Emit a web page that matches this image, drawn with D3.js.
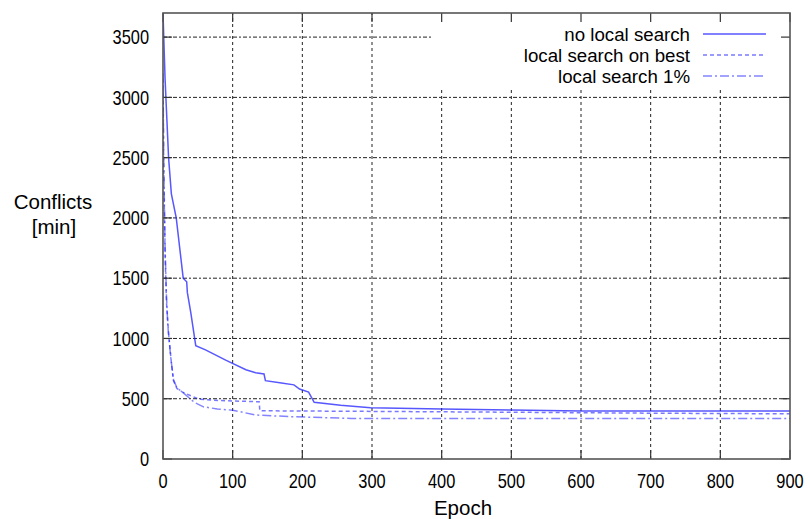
<!DOCTYPE html>
<html>
<head>
<meta charset="utf-8">
<script src="https://cdn.jsdelivr.net/npm/d3@7"></script>
<style>
  body { margin: 0; background: #fff; }
  svg { font-family: "Liberation Sans", Arial, sans-serif; }
</style>
</head>
<body>
<div id="chart"></div>
<script>
// values (epoch, conflicts)
const noLocalEpoch = [0, 3, 8, 12, 19, 29, 34, 35, 40, 47, 61, 90, 119, 133, 145, 147, 170, 188, 196, 209, 217, 255, 298, 400, 500, 600, 900];
const noLocalValue = [3700, 3150, 2500, 2200, 2000, 1500, 1470, 1380, 1210, 940, 905, 820, 740, 715, 705, 650, 630, 615, 580, 555, 470, 445, 425, 415, 406, 398, 398];

const onBestEpoch = [0, 1, 3, 5, 8, 12, 15, 20, 28, 51, 80, 138, 139, 300, 500, 700, 900];
const onBestValue = [3150, 2400, 1700, 1300, 1040, 800, 650, 585, 555, 497, 485, 475, 400, 395, 388, 380, 375];

const onePctEpoch = [0, 1, 3, 5, 7, 11, 15, 20, 28, 45, 58, 78, 100, 133, 188, 270, 500, 900];
const onePctValue = [3200, 2500, 1750, 1350, 1100, 850, 660, 590, 555, 470, 433, 415, 405, 365, 350, 337, 335, 335];

const seriesNames = ["no local search", "local search on best", "local search 1%"];
const xTicks = [0, 100, 200, 300, 400, 500, 600, 700, 800, 900];
const yTicks = [0, 500, 1000, 1500, 2000, 2500, 3000, 3500];

const width = 810, height = 519;
const margin = { left: 163, top: 13, right: 20, bottom: 60 };
const plotW = width - margin.left - margin.right;
const plotH = height - margin.top - margin.bottom;

const svg = d3.select("#chart").append("svg")
    .attr("width", width)
    .attr("height", height);

const x = d3.scaleLinear().domain([0, 900]).range([margin.left, margin.left + plotW]);
const y = d3.scaleLinear().domain([0, 3700]).range([margin.top + plotH, margin.top]);

// grid
const grid = svg.append("g").attr("stroke", "#222").attr("stroke-width", 1);
grid.selectAll("line.h")
    .data(yTicks.filter(d => d > 0))
    .enter().append("line")
    .attr("x1", x(0)).attr("x2", x(900))
    .attr("y1", d => y(d)).attr("y2", d => y(d))
    .attr("stroke-dasharray", "4,2,2,2");
grid.selectAll("line.v")
    .data(xTicks.filter(d => d > 0 && d < 900))
    .enter().append("line")
    .attr("y1", y(0)).attr("y2", y(3700))
    .attr("x1", d => x(d)).attr("x2", d => x(d))
    .attr("stroke-dasharray", "3,3");

// key box clears the grid
svg.append("rect")
    .attr("x", 432).attr("y", margin.top)
    .attr("width", x(900) - 432).attr("height", 75)
    .attr("fill", "#fff");

svg.append("clipPath").attr("id", "clip")
  .append("rect")
    .attr("x", margin.left).attr("y", margin.top)
    .attr("width", plotW).attr("height", plotH);

const line = d3.line().x(d => x(d[0])).y(d => y(d[1]));

const series = [
    { pts: d3.zip(noLocalEpoch, noLocalValue), dash: null, op: 0.75 },
    { pts: d3.zip(onBestEpoch, onBestValue), dash: "4,3", op: 0.6 },
    { pts: d3.zip(onePctEpoch, onePctValue), dash: "9,3,2,3", op: 0.55 }
];

svg.append("g").attr("clip-path", "url(#clip)")
  .selectAll("path")
    .data(series)
    .enter().append("path")
    .attr("d", d => line(d.pts))
    .attr("fill", "none")
    .attr("stroke", "#1f1fff")
    .attr("stroke-opacity", d => d.op)
    .attr("stroke-width", 1.5)
    .attr("stroke-dasharray", d => d.dash);

// ticks (inward, mirrored)
const tickLen = 9;
const ticks = svg.append("g").attr("stroke", "#333").attr("stroke-width", 1.2);
yTicks.forEach(v => {
    ticks.append("line").attr("x1", x(0)).attr("x2", x(0) + tickLen).attr("y1", y(v)).attr("y2", y(v));
    ticks.append("line").attr("x1", x(900)).attr("x2", x(900) - tickLen).attr("y1", y(v)).attr("y2", y(v));
});
xTicks.forEach(v => {
    ticks.append("line").attr("x1", x(v)).attr("x2", x(v)).attr("y1", y(0)).attr("y2", y(0) - tickLen);
    ticks.append("line").attr("x1", x(v)).attr("x2", x(v)).attr("y1", y(3700)).attr("y2", y(3700) + tickLen);
});

// border
svg.append("rect")
    .attr("x", x(0)).attr("y", y(3700))
    .attr("width", x(900) - x(0)).attr("height", y(0) - y(3700))
    .attr("fill", "none")
    .attr("stroke", "#555")
    .attr("stroke-width", 1.6);

// tick labels: tall, narrow digits
svg.append("g").selectAll("text")
    .data(yTicks)
    .enter().append("text")
    .attr("transform", d => `translate(149,${y(d)}) scale(0.82,1)`)
    .attr("dy", "0.36em")
    .attr("text-anchor", "end")
    .style("font-size", "20px")
    .text(d => d);

svg.append("g").selectAll("text")
    .data(xTicks)
    .enter().append("text")
    .attr("transform", d => `translate(${x(d)},488) scale(0.82,1)`)
    .attr("text-anchor", "middle")
    .style("font-size", "20px")
    .text(d => d);

// axis titles
svg.append("text").attr("x", 53).attr("y", 209).attr("text-anchor", "middle")
    .style("font-size", "20.5px").text("Conflicts");
svg.append("text").attr("x", 54).attr("y", 234).attr("text-anchor", "middle")
    .style("font-size", "20.5px").text("[min]");
svg.append("text").attr("x", 463).attr("y", 515).attr("text-anchor", "middle")
    .style("font-size", "20.5px").text("Epoch");

// legend
const key = svg.append("g").selectAll("g")
    .data(series)
    .enter().append("g")
    .attr("transform", (d, i) => `translate(0,${34 + i * 21})`);
key.append("text")
    .attr("x", 690).attr("dy", "0.36em")
    .attr("text-anchor", "end")
    .style("font-size", "18.7px")
    .text((d, i) => seriesNames[i]);
key.append("line")
    .attr("x1", 703).attr("x2", 766)
    .attr("stroke", "#1f1fff")
    .attr("stroke-opacity", d => d.op)
    .attr("stroke-width", 1.5)
    .attr("stroke-dasharray", d => d.dash);
</script>
</body>
</html>
